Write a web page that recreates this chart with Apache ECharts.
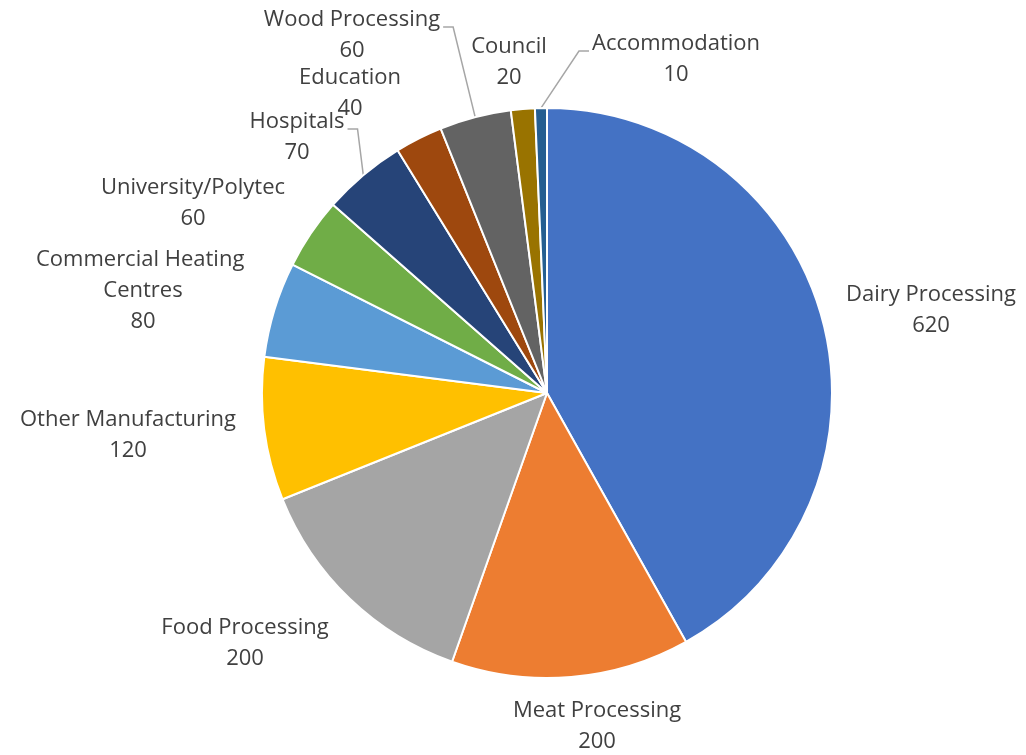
<!DOCTYPE html>
<html>
<head>
<meta charset="utf-8">
<title>Heat demand by sector</title>
<script src="https://cdn.jsdelivr.net/npm/echarts@6/dist/echarts.min.js"></script>
<style>
  html, body { margin: 0; padding: 0; background: #ffffff; }
  #chart { width: 1026px; height: 755px; }
</style>
</head>
<body>
<div id="chart"></div>
<script>
// Sectors, clockwise from 12 o'clock
const categories = [
  'Dairy Processing', 'Meat Processing', 'Food Processing', 'Other Manufacturing',
  'Commercial Heating Centres', 'University/Polytec', 'Hospitals', 'Education',
  'Wood Processing', 'Council', 'Accommodation'
];
const values = [620, 200, 200, 120, 80, 60, 70, 40, 60, 20, 10];
const colors = [
  '#4472C4', '#ED7D31', '#A5A5A5', '#FFC000', '#5B9BD5', '#70AD47',
  '#264478', '#9E480E', '#636363', '#997300', '#255E91'
];

// Pie geometry (pixels)
const CX = 547, CY = 393, R = 285;
const LINE_H = 31;

// Label anchor: horizontal centre and vertical centre of the first text line
const labelPos = {
  'Dairy Processing': [931, 295],
  'Meat Processing': [597, 711],
  'Food Processing': [245, 628],
  'Other Manufacturing': [128, 420],
  'Commercial Heating Centres': [143, 260],
  'University/Polytec': [193, 188],
  'Hospitals': [297, 122],
  'Education': [350, 78],
  'Wood Processing': [352, 20],
  'Council': [509, 47],
  'Accommodation': [676, 44]
};
// Labels with leader lines: +1 = line leaves the right side of text, -1 = left side
const leaderSide = { 'Hospitals': 1, 'Wood Processing': 1, 'Accommodation': -1 };

const total = values.reduce((a, b) => a + b, 0);
function midAngle(i) {
  let before = 0;
  for (let k = 0; k < i; k++) before += values[k];
  return (before + values[i] / 2) / total * Math.PI * 2;
}

const chart = echarts.init(document.getElementById('chart'), null, { renderer: 'canvas' });

const data = categories.map((name, i) => {
  const item = { name: name, value: values[i], itemStyle: { color: colors[i] } };
  item.labelLine = { show: !!leaderSide[name] };
  if (name === 'Commercial Heating Centres') {
    item.label = { width: 240, overflow: 'break' };
  }
  return item;
});

chart.setOption({
  animation: false,
  backgroundColor: '#ffffff',
  series: [{
    type: 'pie',
    center: [CX, CY],
    radius: R,
    startAngle: 90,
    clockwise: true,
    avoidLabelOverlap: false,
    emphasis: { disabled: true },
    itemStyle: { borderColor: '#ffffff', borderWidth: 2 },
    label: {
      show: true,
      position: 'outside',
      formatter: '{b}\n{c}',
      fontFamily: 'Open Sans',
      fontSize: 22,
      lineHeight: LINE_H,
      color: '#404040',
      align: 'center'
    },
    labelLine: {
      lineStyle: { color: '#A6A6A6', width: 1.5 }
    },
    labelLayout: function (p) {
      const name = categories[p.dataIndex];
      const pos = labelPos[name];
      const out = {
        x: pos[0],
        y: pos[1] - LINE_H / 2,
        align: 'center',
        verticalAlign: 'top'
      };
      const side = leaderSide[name];
      if (side) {
        const a = midAngle(p.dataIndex);
        const ex = CX + R * Math.sin(a);
        const ey = CY - R * Math.cos(a);
        const tx = pos[0] + side * (p.labelRect.width / 2 + 3);
        const ty = pos[1] + 7;
        out.labelLinePoints = [[ex, ey], [tx + side * 10, ty], [tx, ty]];
      }
      return out;
    },
    data: data
  }]
});
</script>
</body>
</html>
